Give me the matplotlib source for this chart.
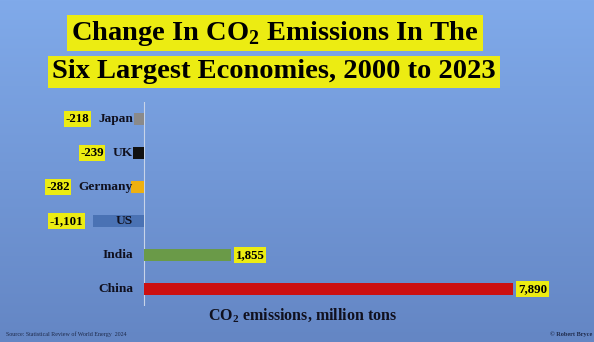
import numpy as np
import matplotlib
matplotlib.use("Agg")
import matplotlib.pyplot as plt
import matplotlib.transforms as mtransforms

# datos
paises = ["China", "India", "US", "Germany", "UK", "Japan"]
cambio = [7890, 1855, -1101, -282, -239, -218]
colores = ["#cc1010", "#6a9a48", "#4a72b4", "#eeb010", "#111111", "#8a8a8a"]

titulo_1 = "Change In CO$_\\mathbf{2}$ Emissions In The"
titulo_2 = "Six Largest Economies, 2000 to 2023"
eje_x = "CO$_\\mathbf{2}$ emissions, million tons"
fuente = "Source: Statistical Review of World Energy  2024"
firma = "\u00a9 Robert Bryce"

plt.rcParams["font.family"] = "Liberation Serif"
plt.rcParams["mathtext.fontset"] = "custom"
plt.rcParams["mathtext.rm"] = "Liberation Serif:bold"
plt.rcParams["mathtext.bf"] = "Liberation Serif:bold"

AMARILLO = "#ecec12"
TEXTO = "#10101e"

fig = plt.figure(figsize=(5.94, 3.42), dpi=100)

# fondo degradado
fondo = fig.add_axes([0, 0, 1, 1], zorder=-10)
grad = np.linspace(0, 1, 256).reshape(-1, 1)
arriba = np.array([128, 170, 234]) / 255
abajo = np.array([100, 134, 196]) / 255
img = arriba + (abajo - arriba) * grad[..., None]
fondo.imshow(img, aspect="auto", extent=[0, 1, 0, 1])
fondo.axis("off")

# ejes principales: cero en x=144 px, 7890 en x=513 px
W, H = 594, 342
px_por_unidad = (513 - 144) / 7890
izq_px, der_px = 30, 580
ax = fig.add_axes([izq_px / W, (H - 306) / H, (der_px - izq_px) / W, 204 / H])
ax.set_xlim((izq_px - 144) / px_por_unidad, (der_px - 144) / px_por_unidad)
ax.set_ylim(-0.5, 5.5)
ax.patch.set_alpha(0)

y = np.arange(len(paises))
ax.barh(y, cambio, height=0.36, color=colores, zorder=2)
ax.axvline(0, color="#c8d4e8", lw=0.8, zorder=1)

for s in ax.spines.values():
    s.set_visible(False)
ax.set_xticks([])
ax.set_yticks([])

renderer = fig.canvas.get_renderer()
off_cat = mtransforms.offset_copy(ax.transData, fig=fig, x=-11, y=0, units="dots")
for yi, nombre, v in zip(y, paises, cambio):
    t = ax.text(0, yi, nombre, transform=off_cat, ha="right", va="center",
                fontsize=9.6, fontweight="bold", color=TEXTO, zorder=3)
    etiqueta = f"{v:,}"
    caja = dict(boxstyle="square,pad=0.12", fc=AMARILLO, ec="none")
    if v < 0:
        bb = t.get_window_extent(renderer)
        borde = ax.transData.transform((v, yi))[0]
        x_px = min(bb.x0, borde) - 9
        xd = ax.transData.inverted().transform((x_px, 0))[0]
        ax.text(xd, yi, etiqueta, ha="right", va="center", fontsize=9.3,
                fontweight="bold", color="black", bbox=caja, zorder=3)
    else:
        ax.annotate(etiqueta, (v, yi), xytext=(3.5, 0), textcoords="offset points",
                    ha="left", va="center", fontsize=9.3, fontweight="bold",
                    color="black", bbox=caja, zorder=3)

# titulos
fig.text(275 / W, 1 - 33 / H, titulo_1, ha="center", va="center", fontsize=20.5,
         fontweight="bold", color="black",
         bbox=dict(boxstyle="square,pad=0.14", fc=AMARILLO, ec="none"))
fig.text(274 / W, 1 - 72 / H, titulo_2, ha="center", va="center", fontsize=20.5,
         fontweight="bold", color="black",
         bbox=dict(boxstyle="square,pad=0.14", fc=AMARILLO, ec="none"))

fig.text(303 / W, 1 - 316 / H, eje_x, ha="center", va="center", fontsize=11.5,
         fontweight="bold", color=TEXTO)
fig.text(6 / W, 1 - 334 / H, fuente, ha="left", va="center", fontsize=4.3,
         color="#1e2a4a")
fig.text(592 / W, 1 - 334 / H, firma, ha="right", va="center", fontsize=4.5,
         fontweight="bold", color="#1e2a4a")

fig.savefig("out.png", dpi=100)
